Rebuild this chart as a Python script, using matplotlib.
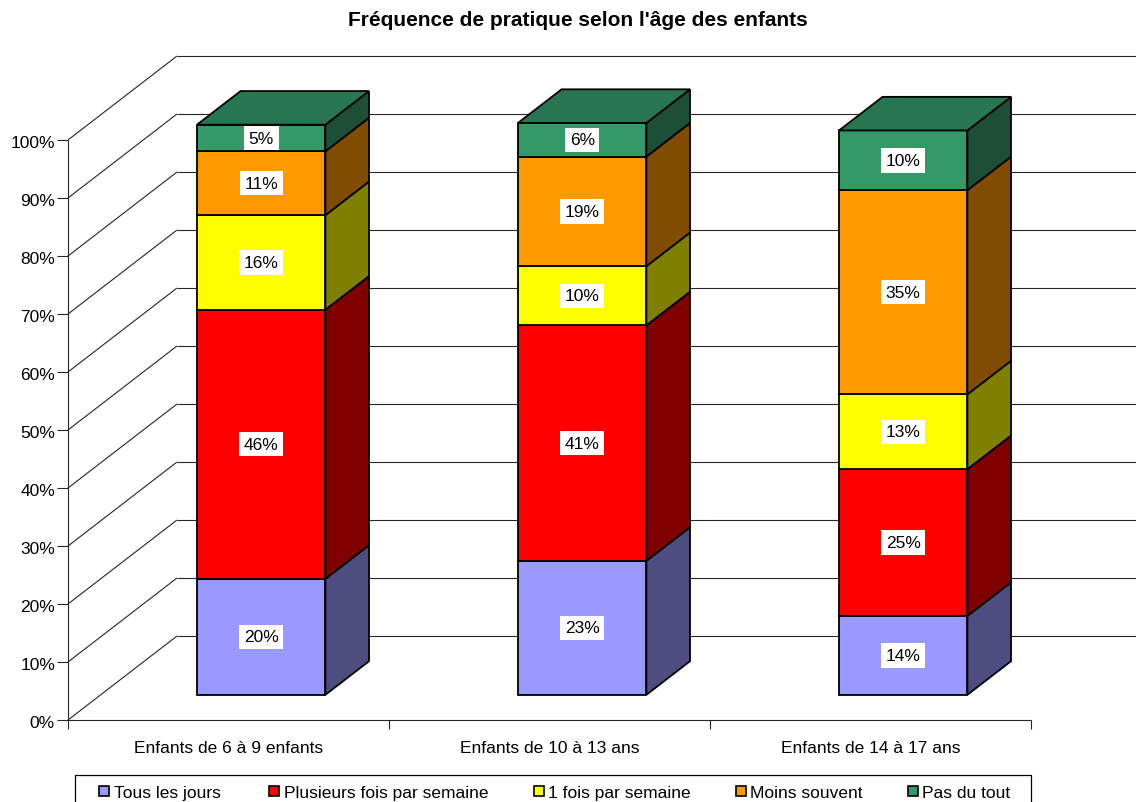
import matplotlib
matplotlib.use("Agg")
import matplotlib.pyplot as plt
from matplotlib.patches import Polygon, Rectangle

# ---------------- data ----------------
title = "Fréquence de pratique selon l'âge des enfants"
categories = ["Enfants de 6 à 9 enfants", "Enfants de 10 à 13 ans", "Enfants de 14 à 17 ans"]
series_names = ["Tous les jours", "Plusieurs fois par semaine", "1 fois par semaine",
                "Moins souvent", "Pas du tout"]
tous_les_jours = [20.0, 23.1, 13.6]
plusieurs_fois = [46.4, 40.6, 25.3]
une_fois = [16.3, 10.2, 12.9]
moins_souvent = [11.0, 18.9, 35.2]
pas_du_tout = [4.6, 5.8, 10.3]
y_ticks = [0, 10, 20, 30, 40, 50, 60, 70, 80, 90, 100]

series_values = [tous_les_jours, plusieurs_fois, une_fois, moins_souvent, pas_du_tout]
front_colors = ["#9999FF", "#FF0000", "#FFFF00", "#FF9900", "#339966"]
side_colors = ["#4D4D80", "#800000", "#808000", "#804C00", "#1C4F36"]
top_colors = ["#7373BF", "#BF0000", "#BFBF00", "#BF7300", "#287552"]

FONT = ["Liberation Sans", "DejaVu Sans"]
FS = 12.5

# ---------------- layout ----------------
W, H = 1136, 803
PX_X0, PX_CAT = 68, 321       # pixel of category axis origin, pixels per category
PX_Y0, PX_PCT = 721, 5.8      # pixel of 0 %, pixels per percent
DX = 109 / PX_CAT             # oblique depth offset (in category units)
DY = 84 / PX_PCT              # oblique depth offset (in percent units)

fig = plt.figure(figsize=(W / 100, H / 100), dpi=100)
ax = fig.add_axes([0, 0, 1, 1])
ax.set_xlim((0 - PX_X0) / PX_CAT, (W - PX_X0) / PX_CAT)
ax.set_ylim((PX_Y0 - H) / PX_PCT, PX_Y0 / PX_PCT)
ax.axis("off")


def P(x, y, z):
    return (x + z * DX, y + z * DY)


ncat = len(categories)
grid_kw = dict(color="#262626", lw=0.8, zorder=1, solid_capstyle="butt")

# walls / gridlines
for v in y_ticks:
    ax.plot([0, DX], [v, v + DY], **grid_kw)
    ax.plot([DX, ncat + DX + 1], [v + DY, v + DY], **grid_kw)
    # tick marks + labels
    ax.plot([-11 / PX_CAT, 0], [v, v], **grid_kw)
    ax.text(-13 / PX_CAT, v - 7.3 / PX_PCT, f"{v}%", ha="right", va="baseline",
            fontsize=FS, family=FONT, color="black")

ax.plot([0, 0], [0, y_ticks[-1]], **grid_kw)
ax.plot([0, ncat], [0, 0], **grid_kw)
for i in range(ncat + 1):
    ax.plot([i, i], [0, -9 / PX_PCT], **grid_kw)

for i, cat in enumerate(categories):
    ax.text(i + 0.5, -32 / PX_PCT, cat, ha="center", va="baseline",
            fontsize=FS, family=FONT, color="black")

# bars
bw = 0.4
z0, z1 = 0.3, 0.7
edge_kw = dict(edgecolor="black", lw=1.3, joinstyle="miter", zorder=3)
for i in range(ncat):
    x0, x1 = i + 0.5 - bw / 2, i + 0.5 + bw / 2
    bottom = 0.0
    for j, vals in enumerate(series_values):
        v = vals[i]
        y0, y1 = bottom, bottom + v
        side = [P(x1, y0, z0), P(x1, y0, z1), P(x1, y1, z1), P(x1, y1, z0)]
        front = [P(x0, y0, z0), P(x1, y0, z0), P(x1, y1, z0), P(x0, y1, z0)]
        ax.add_patch(Polygon(side, closed=True, facecolor=side_colors[j], **edge_kw))
        ax.add_patch(Polygon(front, closed=True, facecolor=front_colors[j], **edge_kw))
        if j == len(series_values) - 1:
            top = [P(x0, y1, z0), P(x1, y1, z0), P(x1, y1, z1), P(x0, y1, z1)]
            ax.add_patch(Polygon(top, closed=True, facecolor=top_colors[j], **edge_kw))
        cx, cy = P((x0 + x1) / 2, (y0 + y1) / 2, z0)
        ax.text(cx, cy, f"{round(v)}%", ha="center", va="center", fontsize=FS,
                family=FONT, color="black", zorder=5,
                bbox=dict(boxstyle="square,pad=0.27", facecolor="white",
                          edgecolor="none"))
        bottom = y1

# ---------------- overlay: title + legend (pixel coordinates) ----------------
lax = fig.add_axes([0, 0, 1, 1])
lax.set_xlim(0, W)
lax.set_ylim(H, 0)
lax.axis("off")
lax.patch.set_visible(False)

lax.text(578, 20, title, ha="center", va="center", fontsize=15, fontweight="bold",
         family=FONT, color="black")

lax.add_patch(Rectangle((75, 776), 1031 - 75, 60, facecolor="white",
                        edgecolor="black", lw=0.9))
legend_x = [99, 269, 534, 736, 908]
for name, col, sx in zip(series_names, front_colors, legend_x):
    lax.add_patch(Rectangle((sx, 787), 10, 10, facecolor=col, edgecolor="black", lw=1.2))
    lax.text(sx + 14.5, 798, name, ha="left", va="baseline", fontsize=FS,
             family=FONT, color="black")

fig.savefig("out.png", dpi=100)
